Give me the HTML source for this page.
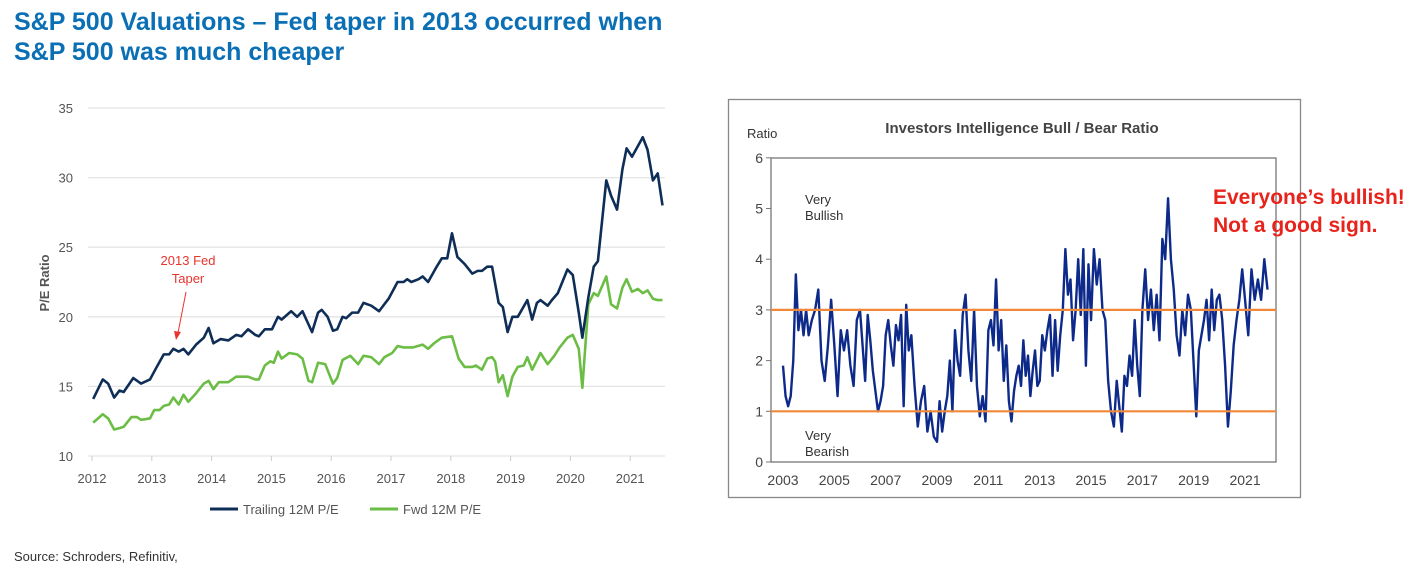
<!DOCTYPE html>
<html><head><meta charset="utf-8">
<style>
body{margin:0;width:1422px;height:568px;background:#fff;overflow:hidden;font-family:"Liberation Sans",sans-serif;}
.t{position:absolute;left:14px;top:7px;font-size:25px;font-weight:bold;color:#0a6fb5;line-height:30px;font-family:"Liberation Sans",sans-serif;}
svg{position:absolute;left:0;top:0}
</style></head><body>
<div class="t">S&amp;P 500 Valuations – Fed taper in 2013 occurred when<br>S&amp;P 500 was much cheaper</div>
<svg id="s" width="1422" height="568"></svg>
<script>
// Left chart data
const trailDates=[2012.02,2012.18,2012.27,2012.37,2012.46,2012.53,2012.69,2012.82,2012.97,2013.07,2013.2,2013.29,2013.36,2013.45,2013.53,2013.61,2013.74,2013.87,2013.95,2014.03,2014.15,2014.28,2014.41,2014.5,2014.61,2014.73,2014.79,2014.89,2015.01,2015.11,2015.17,2015.33,2015.43,2015.52,2015.68,2015.78,2015.84,2015.94,2016.03,2016.1,2016.19,2016.25,2016.35,2016.45,2016.54,2016.67,2016.8,2016.96,2017.11,2017.21,2017.27,2017.34,2017.46,2017.53,2017.62,2017.75,2017.85,2017.94,2018.02,2018.11,2018.23,2018.36,2018.45,2018.52,2018.61,2018.69,2018.8,2018.87,2018.95,2019.03,2019.12,2019.28,2019.36,2019.44,2019.5,2019.62,2019.69,2019.79,2019.95,2020.04,2020.14,2020.2,2020.3,2020.39,2020.46,2020.6,2020.68,2020.78,2020.87,2020.94,2021.03,2021.21,2021.29,2021.38,2021.46,2021.54];
const trailPE=[14.1,15.5,15.2,14.2,14.7,14.6,15.6,15.2,15.5,16.3,17.3,17.3,17.7,17.5,17.7,17.3,18.0,18.5,19.2,18.1,18.4,18.3,18.7,18.6,19.1,18.7,18.6,19.1,19.1,20.0,19.8,20.4,20.0,20.4,18.9,20.3,20.5,20.0,19.0,19.1,20.0,19.9,20.3,20.3,21.0,20.8,20.4,21.3,22.5,22.5,22.7,22.5,22.7,22.9,22.5,23.5,24.2,24.2,26.0,24.3,23.8,23.1,23.3,23.3,23.6,23.6,21.0,20.7,18.9,20.0,20.0,21.2,19.8,21.0,21.2,20.8,21.2,21.7,23.4,23.0,20.3,18.5,21.4,23.6,24.0,29.8,28.7,27.7,30.6,32.1,31.5,32.9,32.0,29.8,30.3,28.0];
const fwdDates=[2012.02,2012.18,2012.27,2012.37,2012.46,2012.53,2012.66,2012.75,2012.82,2012.97,2013.04,2013.13,2013.2,2013.29,2013.36,2013.45,2013.53,2013.61,2013.74,2013.87,2013.95,2014.03,2014.12,2014.28,2014.41,2014.5,2014.61,2014.73,2014.79,2014.89,2014.98,2015.04,2015.11,2015.17,2015.3,2015.43,2015.52,2015.62,2015.68,2015.78,2015.9,2016.03,2016.1,2016.19,2016.32,2016.45,2016.54,2016.67,2016.8,2016.89,2017.02,2017.11,2017.21,2017.37,2017.53,2017.62,2017.72,2017.85,2018.02,2018.13,2018.23,2018.36,2018.42,2018.52,2018.61,2018.69,2018.74,2018.8,2018.87,2018.95,2019.03,2019.12,2019.22,2019.28,2019.36,2019.5,2019.62,2019.73,2019.82,2019.95,2020.04,2020.14,2020.2,2020.3,2020.39,2020.46,2020.6,2020.68,2020.78,2020.87,2020.94,2021.03,2021.13,2021.21,2021.29,2021.38,2021.46,2021.54];
const fwdPE=[12.4,13.0,12.7,11.9,12.0,12.1,12.8,12.8,12.6,12.7,13.3,13.3,13.6,13.7,14.2,13.7,14.4,13.9,14.5,15.2,15.4,14.8,15.3,15.3,15.7,15.7,15.7,15.5,15.5,16.5,16.8,16.7,17.5,17.0,17.4,17.3,17.0,15.4,15.3,16.7,16.6,15.2,15.6,16.9,17.2,16.6,17.2,17.1,16.6,17.1,17.4,17.9,17.8,17.8,18.0,17.7,18.1,18.5,18.6,17.0,16.4,16.4,16.5,16.2,17.0,17.1,16.8,15.3,15.8,14.3,15.7,16.4,16.5,17.1,16.2,17.4,16.6,17.2,17.8,18.5,18.7,17.7,14.9,20.9,21.7,21.5,22.9,20.9,20.6,22.1,22.7,21.8,22.0,21.7,21.9,21.3,21.2,21.2];
const leftYTicks=[10,15,20,25,30,35];
const leftXTicks=[2012,2013,2014,2015,2016,2017,2018,2019,2020,2021];
// Right chart data
const bbYears=[2003,2004,2005,2006,2007,2008,2009,2010,2011,2012,2013,2014,2015,2016,2017,2018,2019,2020,2021];
const bbRatio=[
[1.9,1.3,1.1,1.3,2.0,3.7,2.6,3.0,2.5,3.0],
[2.5,2.8,3.0,3.4,2.0,1.6,2.3,3.2],
[2.3,1.3,2.6,2.2,2.6,1.9,1.5,2.8],
[3.0,2.3,1.6,2.9,2.4,1.8,1.4,1.0,1.2,1.5],
[2.5,2.8,2.3,1.9,2.7,2.4,2.9,1.1,3.1,2.2],
[2.5,1.5,0.7,1.2,1.5,0.6,1.0,0.5],
[0.4,1.2,0.6,1.0,1.3,2.0,1.0,2.6,2.0,1.7],
[2.9,3.3,2.2,1.6,3.0,1.5,0.9,1.3,0.8],
[2.6,2.8,2.3,3.6,2.2,2.8,1.6,2.3,1.2,0.8],
[1.4,1.7,1.9,1.5,2.4,1.7,2.1,1.3,1.8,2.2,1.5],
[1.6,2.5,2.2,2.6,2.9,1.7,2.8,1.8,2.5,3.0],
[4.2,3.3,3.6,2.4,3.0,4.0,2.9,4.2,1.9,3.9],
[2.8,4.2,3.5,4.0,3.0,2.8,1.6,1.0,0.7],
[1.6,1.1,0.6,1.7,1.5,2.1,1.7,2.8,1.9,1.3],
[3.0,3.8,2.8,3.4,2.6,3.3,2.4,4.4,4.0],
[5.2,4.0,3.4,2.5,2.1,3.0,2.5,3.3,3.0],
[1.9,0.9,2.2,2.5,2.8,3.2,2.4,3.4,2.6,3.2],
[3.3,2.8,1.9,0.7,1.4,2.3,2.8,3.2,3.8],
[3.2,2.5,3.8,3.2,3.6,3.2,4.0,3.4]];
const rightYTicks=[0,1,2,3,4,5,6];
const rightXTicks=[2003,2005,2007,2009,2011,2013,2015,2017,2019,2021];
const thresholds=[1,3];

const NS="http://www.w3.org/2000/svg",S=document.getElementById('s');
function mk(t,a,p){const e=document.createElementNS(NS,t);for(const k in a)e.setAttribute(k,a[k]);(p||S).appendChild(e);return e;}
function tx(x,y,s,a){const e=mk('text',Object.assign({x:x,y:y,'font-family':'Liberation Sans, sans-serif'},a));e.textContent=s;return e;}

// left axes
const lx=v=>92+(v-2012)*59.8, ly=v=>456-(v-10)*13.92;
leftYTicks.forEach(v=>{
 const g=mk('line',{x1:88,x2:665,y1:ly(v),y2:ly(v),stroke:'#e4e4e4','stroke-width':1.3});
 
 
 const t=tx(73,ly(v)+5,v,{'font-size':13,fill:'#555','text-anchor':'end'});
 
 
});
leftXTicks.forEach(v=>{
 const m=mk('line',{x1:lx(v),x2:lx(v),y1:456,y2:461,stroke:'#ccc'});
 
 
 const t=tx(lx(v),483,v,{'font-size':13,fill:'#555','text-anchor':'middle'});
 
 
});
const yt=tx(0,0,'P/E Ratio',{'font-size':13,'font-weight':'bold',fill:'#555','text-anchor':'middle',transform:'translate(49,283) rotate(-90)'});


function poly(xs,ys,fx,fy,c,w,name){const p=mk('polyline',{points:xs.map((x,i)=>fx(x)+','+fy(ys[i])).join(' '),fill:'none',stroke:c,'stroke-width':w,'stroke-linejoin':'round'});}
poly(fwdDates,fwdPE,lx,ly,'#6cbd45',2.6,'fwd-pe-line');
poly(trailDates,trailPE,lx,ly,'#0f2e57',2.6,'trailing-pe-line');
const a1=tx(188,265,'2013 Fed',{'font-size':13,fill:'#e8352e','text-anchor':'middle'});


const a2=tx(188,283,'Taper',{'font-size':13,fill:'#e8352e','text-anchor':'middle'});


const ar=mk('line',{x1:186,y1:292,x2:178,y2:333,stroke:'#e8352e','stroke-width':1});


const ah=mk('polygon',{points:'174,331 181,332 176,340',fill:'#e8352e'});


// legend
[[210,'#0f2e57','Trailing 12M P/E'],[370,'#6cbd45','Fwd 12M P/E']].forEach(d=>{
 const l=mk('line',{x1:d[0],x2:d[0]+28,y1:509,y2:509,stroke:d[1],'stroke-width':3});
 
 
 const t=tx(d[0]+33,514,d[2],{'font-size':13,fill:'#555'});
 
 
});
const src=tx(14,561,'Source: Schroders, Refinitiv,',{'font-size':13,fill:'#333'});



// right chart
const box=mk('rect',{x:728.5,y:99.5,width:572,height:398,fill:'#fff',stroke:'#888','stroke-width':1.3});


const rx=v=>783+(v-2003)*25.67, ry=v=>462-v*50.7;
const pa=mk('rect',{x:771,y:158,width:505,height:304,fill:'none',stroke:'#777','stroke-width':1.3});


rightYTicks.forEach(v=>{
 const t=tx(763,ry(v)+5,v,{'font-size':14,fill:'#444','text-anchor':'end'});
 
 
 const m=mk('line',{x1:766,x2:771,y1:ry(v),y2:ry(v),stroke:'#777'});
 
 
});
rightXTicks.forEach(v=>{
 const t=tx(rx(v),485,v,{'font-size':14,fill:'#444','text-anchor':'middle'});
 
 
});
const xs=[],ys=[];
bbYears.forEach((y,i)=>{const a=bbRatio[i];a.forEach((v,j)=>{xs.push(y+j/a.length);ys.push(v);});});
const bl=mk('polyline',{points:xs.map((x,i)=>rx(x)+','+ry(ys[i])).join(' '),fill:'none',stroke:'#0d2a8a','stroke-width':2.4,'stroke-linejoin':'round'});


thresholds.forEach(v=>{
 const l=mk('line',{x1:771,x2:1276,y1:ry(v),y2:ry(v),stroke:'#f0883a','stroke-width':2.2});
 
 
});
const rt=tx(1022,133,'Investors Intelligence Bull / Bear Ratio',{'font-size':15,'font-weight':'bold',fill:'#444','text-anchor':'middle'});


const ru=tx(747,138,'Ratio',{'font-size':13,fill:'#333'});


[['Very',805,204],['Bullish',805,220],['Very',805,440],['Bearish',805,456]].forEach(d=>{
 const t=tx(d[1],d[2],d[0],{'font-size':13,fill:'#333'});
 
 
});
[['Everyone’s bullish!',204],['Not a good sign.',232]].forEach(d=>{
 const t=tx(1213,d[1],d[0],{'font-size':21,'font-weight':'bold',fill:'#e8231c'});
 
 
});
</script>
</body></html>
